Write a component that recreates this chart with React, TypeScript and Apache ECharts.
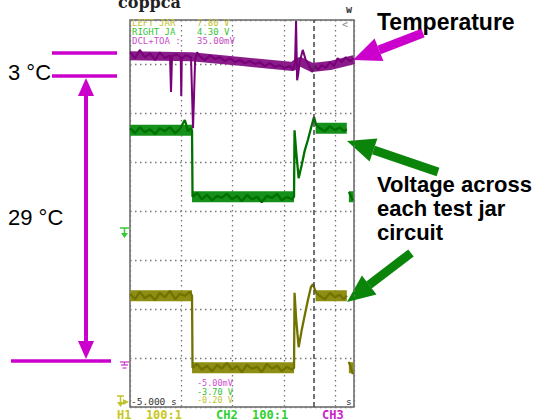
import React, { useEffect, useRef } from "react";
import * as echarts from "echarts";

// All trace data in oscilloscope screen divisions: [time div, amplitude div]
const temperatureTrace: [number, number][] = [
  [0.0, 7.24], [0.1, 7.12], [0.19, 7.29], [0.29, 7.14], [0.39, 7.22], [0.49, 7.08], [0.58, 7.24],
  [0.68, 7.12], [0.78, 7.18], [0.8, 6.43], [0.82, 7.16], [0.9, 7.2], [0.99, 7.14], [1.0, 6.35],
  [1.01, 7.12], [1.09, 7.18], [1.19, 7.14], [1.23, 5.69], [1.27, 7.08], [1.31, 7.24], [1.36, 7.16],
  [1.46, 7.08], [1.56, 7.18], [1.66, 7.1], [1.75, 7.14], [1.85, 7.06], [1.95, 7.12], [2.05, 7.04],
  [2.14, 7.08], [2.24, 7.02], [2.34, 7.06], [2.44, 7.0], [2.53, 7.04], [2.63, 6.96], [2.73, 7.02],
  [2.83, 6.94], [2.92, 6.98], [3.02, 6.92], [3.12, 6.96], [3.18, 6.88], [3.22, 7.04], [3.24, 7.88],
  [3.26, 6.67], [3.28, 6.78], [3.31, 7.04], [3.37, 7.29], [3.43, 7.08], [3.49, 6.98], [3.55, 6.84],
  [3.61, 6.96], [3.67, 6.88], [3.74, 6.98], [3.82, 6.92], [3.9, 7.04], [3.98, 6.96], [4.05, 7.12],
  [4.13, 7.04], [4.21, 7.14], [4.29, 7.06], [4.37, 7.12],
];
const temperatureBand: [number, number][] = [
  [0.0, 7.17], [1.2, 7.15], [2.2, 7.05], [3.18, 6.95], [3.3, 7.06], [3.55, 6.93], [3.9, 6.97], [4.37, 7.09],
];

const rightJarTrace: ([number, number] | [number, string])[] = [
  [0.0, 5.69], [0.1, 5.59], [0.19, 5.71], [0.29, 5.61], [0.39, 5.67], [0.49, 5.57], [0.58, 5.69],
  [0.68, 5.63], [0.78, 5.71], [0.88, 5.59], [0.97, 5.67], [1.07, 5.86], [1.13, 5.63], [1.19, 5.69],
  [1.21, 5.65], [1.22, 4.29], [1.31, 4.37], [1.4, 4.24], [1.5, 4.33], [1.6, 4.22], [1.7, 4.31],
  [1.79, 4.27], [1.89, 4.35], [1.99, 4.24], [2.09, 4.31], [2.18, 4.2], [2.28, 4.33], [2.38, 4.24],
  [2.48, 4.29], [2.57, 4.18], [2.67, 4.31], [2.77, 4.27], [2.87, 4.35], [2.96, 4.22], [3.06, 4.29],
  [3.16, 4.24], [3.2, 4.29], [3.21, 5.65], [3.24, 5.24], [3.29, 4.67], [3.35, 4.94], [3.41, 5.24],
  [3.47, 5.45], [3.53, 5.69], [3.59, 5.92], [3.63, 5.76], [3.7, 5.69], [3.8, 5.63], [3.9, 5.73],
  [4.0, 5.65], [4.09, 5.71], [4.17, 5.63], [4.23, 5.67], [4.25, "-"], [4.27, 4.39], [4.35, 4.22],
];
const rightJarBands: [number, number, number][] = [
  [0.0, 1.21, 5.65], [1.21, 3.2, 4.29], [3.62, 4.23, 5.69], [4.27, 4.36, 4.29],
];

const leftJarTrace: ([number, number] | [number, string])[] = [
  [0.0, 2.31], [0.1, 2.2], [0.19, 2.35], [0.29, 2.22], [0.39, 2.29], [0.49, 2.18], [0.58, 2.33],
  [0.68, 2.24], [0.78, 2.37], [0.88, 2.2], [0.97, 2.31], [1.07, 2.27], [1.17, 2.35], [1.21, 2.27],
  [1.22, 0.8], [1.31, 0.88], [1.4, 0.76], [1.5, 0.84], [1.6, 0.73], [1.7, 0.86], [1.79, 0.78],
  [1.89, 0.9], [1.99, 0.76], [2.09, 0.84], [2.18, 0.71], [2.28, 0.86], [2.38, 0.78], [2.48, 0.82],
  [2.57, 0.71], [2.67, 0.88], [2.77, 0.78], [2.87, 0.84], [2.96, 0.73], [3.06, 0.82], [3.16, 0.76],
  [3.2, 0.8], [3.21, 2.33], [3.24, 1.82], [3.29, 1.22], [3.35, 1.57], [3.41, 1.88], [3.47, 2.18],
  [3.53, 2.45], [3.57, 2.51], [3.63, 2.33], [3.7, 2.27], [3.8, 2.2], [3.9, 2.33], [4.0, 2.24],
  [4.09, 2.29], [4.17, 2.2], [4.23, 2.27], [4.25, "-"], [4.27, 0.92], [4.35, 0.67],
];
const leftJarBands: [number, number, number][] = [
  [0.0, 1.21, 2.27], [1.21, 3.2, 0.8], [3.62, 4.23, 2.27], [4.27, 4.36, 0.8],
];

const cursorPositions = [3.59];

// On-screen scope readouts
const topReadouts = [
  { label: "LEFT JAR", value: "7.80 V", color: "#c2c22e" },
  { label: "RIGHT JA", value: "4.30 V", color: "#35c435" },
  { label: "DCL+TOA :", value: "35.00mV", color: "#c84ec8" },
];
const bottomReadouts = [
  { value: "-5.00mV", color: "#d04ed0" },
  { value: "-3.70 V", color: "#2fbf2f" },
  { value: "-0.20 V", color: "#c2c22e" },
];
const channelLabels = [
  { text: "H1  100:1", color: "#c8c820" },
  { text: "CH2  100:1", color: "#2ed02e" },
  { text: "CH3", color: "#cc22cc" },
];
const timeOffsetLabel = "-5.000 s";
const annotationTemp = ["3 °C", "29 °C"];
const annotationTitles = ["Temperature", "Voltage across", "each test jar", "circuit"];

const MAG = "#cc00cc";
const GRN = "#0a850a";
const MONO = '"DejaVu Sans Mono", monospace';
const SANS = '"Liberation Sans", Arial, sans-serif';

export default function App() {
  const ref = useRef<HTMLDivElement>(null);
  useEffect(() => {
    if (!ref.current) return;
    const chart = echarts.init(ref.current, null, { renderer: "svg" });

    const bandSeries = (bands: [number, number, number][], color: string) =>
      bands.map((b) => ({
        type: "line",
        data: [[b[0], b[2]], [b[1], b[2]]],
        symbol: "none",
        silent: true,
        lineStyle: { color, width: 11 },
        z: 2,
      }));

    const series: any[] = [
      {
        type: "line",
        data: temperatureBand,
        symbol: "none",
        silent: true,
        lineStyle: { color: "#8a1c8a", width: 9 },
        z: 2,
      },
      ...bandSeries(rightJarBands, "#15901a"),
      ...bandSeries(leftJarBands, "#8e8e12"),
      {
        type: "line",
        data: temperatureTrace,
        symbol: "none",
        silent: true,
        lineStyle: { color: "#780078", width: 2 },
        z: 3,
        markLine: {
          symbol: "none",
          silent: true,
          label: { show: false },
          lineStyle: { type: [5, 3], color: "#444", width: 1.5 },
          data: cursorPositions.map((c) => ({ xAxis: c })),
        },
      },
      {
        type: "line",
        data: rightJarTrace,
        symbol: "none",
        silent: true,
        connectNulls: false,
        lineStyle: { color: "#007000", width: 2.3 },
        z: 3,
      },
      {
        type: "line",
        data: leftJarTrace,
        symbol: "none",
        silent: true,
        connectNulls: false,
        lineStyle: { color: "#727200", width: 2.3 },
        z: 3,
      },
    ];

    const arrow = (tail: number[], base: number[], tip: number[], c1: number[], c2: number[], color: string) => [
      { type: "line", shape: { x1: tail[0], y1: tail[1], x2: base[0], y2: base[1] }, style: { stroke: color, lineWidth: 9 } },
      { type: "polygon", shape: { points: [tip, c1, c2] }, style: { fill: color } },
    ];

    const graphic: any[] = [
      // scope header remnants
      { type: "text", x: 118, y: -6, style: { text: "coppca", font: 'bold 16px "DejaVu Serif", serif', fill: "#222" } },
      { type: "text", x: 346, y: 4, style: { text: "w", font: "bold 10px " + MONO, fill: "#333" } },
      { type: "text", x: 342, y: 19, style: { text: "<", font: "10px " + MONO, fill: "#888" } },
      ...topReadouts.flatMap((r, i) => [
        { type: "text", x: 132, y: 23 + i * 9, style: { text: r.label, font: "9px " + MONO, fill: r.color, textVerticalAlign: "middle" } },
        { type: "text", x: 197, y: 23 + i * 9, style: { text: r.value, font: "9px " + MONO, fill: r.color, textVerticalAlign: "middle" } },
      ]),
      ...bottomReadouts.map((r, i) => ({
        type: "text", x: 197, y: 383 + i * 8.7, style: { text: r.value, font: "8.5px " + MONO, fill: r.color, textVerticalAlign: "middle" },
      })),
      { type: "text", x: 131, y: 401, style: { text: timeOffsetLabel, font: "9.5px " + MONO, fill: "#333", textVerticalAlign: "middle" } },
      { type: "text", x: 346, y: 401, style: { text: "s", font: "9.5px " + MONO, fill: "#333", textVerticalAlign: "middle" } },
      { type: "text", x: 117, y: 409, style: { text: channelLabels[0].text, font: "bold 12px " + MONO, fill: channelLabels[0].color } },
      { type: "text", x: 216, y: 409, style: { text: channelLabels[1].text, font: "bold 12px " + MONO, fill: channelLabels[1].color } },
      { type: "text", x: 322, y: 409, style: { text: channelLabels[2].text, font: "bold 12px " + MONO, fill: channelLabels[2].color } },
      // channel ground markers
      { type: "line", shape: { x1: 120, y1: 228, x2: 129, y2: 228 }, style: { stroke: "#33cc33", lineWidth: 1.5 } },
      { type: "line", shape: { x1: 124.5, y1: 228, x2: 124.5, y2: 233 }, style: { stroke: "#33cc33", lineWidth: 1.5 } },
      { type: "polygon", shape: { points: [[121, 233], [128, 233], [124.5, 238]] }, style: { fill: "#33cc33" } },
      { type: "line", shape: { x1: 120, y1: 362, x2: 129, y2: 362 }, style: { stroke: "#cc44cc", lineWidth: 1.3 } },
      { type: "line", shape: { x1: 124.5, y1: 362, x2: 124.5, y2: 365 }, style: { stroke: "#cc44cc", lineWidth: 1.3 } },
      { type: "line", shape: { x1: 121, y1: 365, x2: 128, y2: 365 }, style: { stroke: "#cc44cc", lineWidth: 1.3 } },
      { type: "line", shape: { x1: 122.5, y1: 368, x2: 126.5, y2: 368 }, style: { stroke: "#cc44cc", lineWidth: 1.3 } },
      { type: "line", shape: { x1: 117, y1: 396, x2: 124, y2: 396 }, style: { stroke: "#c2c22e", lineWidth: 1.5 } },
      { type: "line", shape: { x1: 120.5, y1: 396, x2: 120.5, y2: 403 }, style: { stroke: "#c2c22e", lineWidth: 1.5 } },
      { type: "polygon", shape: { points: [[117, 402], [124, 402], [120.5, 407]] }, style: { fill: "#c2c22e" } },
      { type: "polygon", shape: { points: [[123, 399], [129, 402], [123, 405]] }, style: { fill: "#c2c22e" } },
      // left temperature annotation
      { type: "line", shape: { x1: 52, y1: 53, x2: 117, y2: 53 }, style: { stroke: MAG, lineWidth: 3.5 } },
      { type: "line", shape: { x1: 52, y1: 76, x2: 117, y2: 76 }, style: { stroke: MAG, lineWidth: 3.5 } },
      { type: "line", shape: { x1: 11, y1: 361, x2: 111, y2: 361 }, style: { stroke: MAG, lineWidth: 3.5 } },
      { type: "line", shape: { x1: 86, y1: 92, x2: 86, y2: 345 }, style: { stroke: MAG, lineWidth: 4 } },
      { type: "polygon", shape: { points: [[86, 78], [78, 96], [94, 96]] }, style: { fill: MAG } },
      { type: "polygon", shape: { points: [[86, 359], [78, 341], [94, 341]] }, style: { fill: MAG } },
      { type: "text", x: 8, y: 72, style: { text: annotationTemp[0], font: "22px " + SANS, fill: "#000", textVerticalAlign: "middle" } },
      { type: "text", x: 8, y: 217, style: { text: annotationTemp[1], font: "22px " + SANS, fill: "#000", textVerticalAlign: "middle" } },
      // right annotations
      { type: "text", x: 377, y: 22, style: { text: annotationTitles[0], font: "bold 23px " + SANS, fill: "#000", textVerticalAlign: "middle" } },
      { type: "text", x: 377, y: 184, style: { text: annotationTitles[1], font: "bold 22px " + SANS, fill: "#000", textVerticalAlign: "middle" } },
      { type: "text", x: 377, y: 208, style: { text: annotationTitles[2], font: "bold 22px " + SANS, fill: "#000", textVerticalAlign: "middle" } },
      { type: "text", x: 377, y: 232, style: { text: annotationTitles[3], font: "bold 22px " + SANS, fill: "#000", textVerticalAlign: "middle" } },
      ...arrow([423, 33], [379, 50], [353, 60], [383.4, 61], [374.6, 38.6], MAG),
      ...arrow([438, 172], [373.5, 150], [347, 141], [377.4, 138.6], [369.6, 161.4], GRN),
      ...arrow([411, 253], [369, 285], [347, 302], [376.5, 294.5], [361.9, 275.5], GRN),
    ];

    chart.setOption({
      animation: false,
      backgroundColor: "#ffffff",
      grid: {
        left: 130,
        top: 20,
        width: 224,
        height: 387,
        show: true,
        borderColor: "#666",
        borderWidth: 1.5,
        backgroundColor: "transparent",
      },
      xAxis: {
        type: "value",
        min: 0,
        max: 4.37,
        interval: 1,
        axisLine: { show: false },
        axisTick: { show: false },
        axisLabel: { show: false },
        splitLine: { show: true, lineStyle: { type: [1.5, 3.5], color: "#777", width: 1.3 } },
      },
      yAxis: {
        type: "value",
        min: 0,
        max: 7.9,
        interval: 1,
        axisLine: { show: false },
        axisTick: { show: false },
        axisLabel: { show: false },
        splitLine: { show: true, lineStyle: { type: [1.5, 3.5], color: "#777", width: 1.3 } },
      },
      series,
      graphic,
    });
    return () => chart.dispose();
  }, []);
  return (
    <div
      ref={ref}
      style={{ position: "fixed", left: 0, top: 0, width: 547, height: 420, background: "#fff" }}
    />
  );
}
